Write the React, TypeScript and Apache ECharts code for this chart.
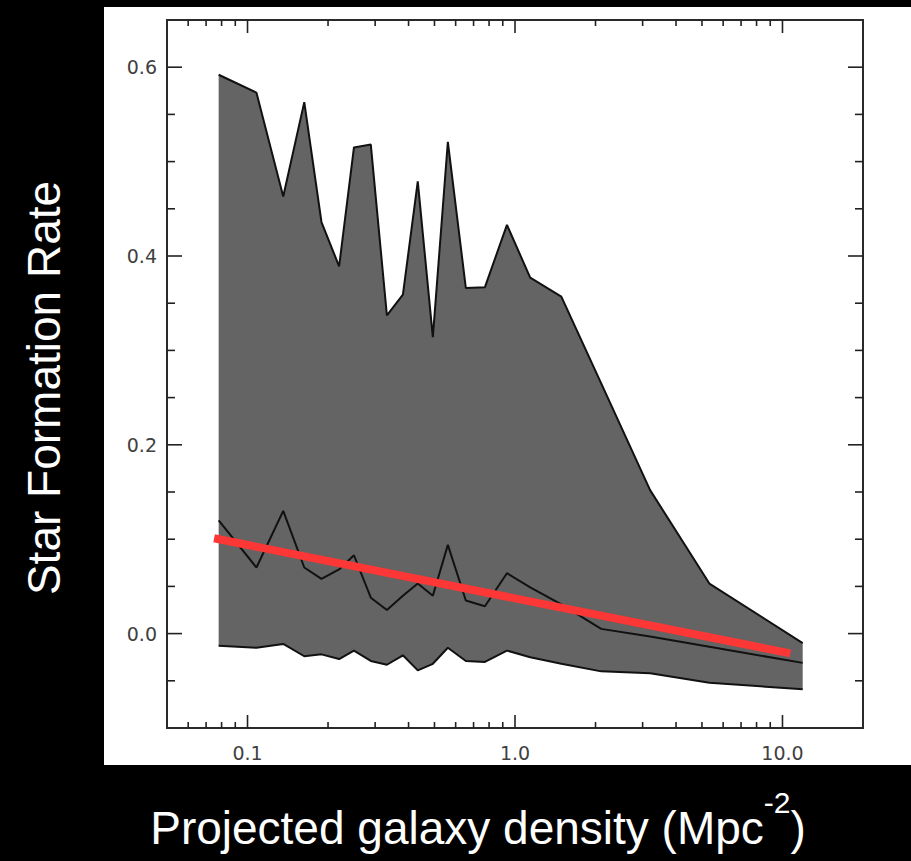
import React, { useEffect, useRef } from 'react';
import * as echarts from 'echarts';

// Projected galaxy density (Mpc^-2) sample positions
const density = [0.078, 0.108, 0.136, 0.163, 0.189, 0.220, 0.250, 0.289, 0.332, 0.381, 0.433, 0.493, 0.561, 0.655, 0.772, 0.933, 1.14, 1.49, 2.10, 3.20, 5.33, 11.9];
// Upper envelope of star formation rate
const sfrUpper = [0.592, 0.573, 0.463, 0.563, 0.436, 0.389, 0.515, 0.518, 0.337, 0.359, 0.479, 0.314, 0.521, 0.366, 0.367, 0.433, 0.377, 0.357, 0.265, 0.152, 0.053, -0.010];
// Median star formation rate
const sfrMedian = [0.120, 0.070, 0.130, 0.070, 0.058, 0.068, 0.083, 0.038, 0.025, 0.040, 0.053, 0.040, 0.094, 0.035, 0.029, 0.064, 0.049, 0.031, 0.005, -0.003, -0.014, -0.031];
// Lower envelope of star formation rate
const sfrLower = [-0.013, -0.015, -0.011, -0.024, -0.022, -0.027, -0.018, -0.029, -0.033, -0.023, -0.039, -0.032, -0.015, -0.029, -0.030, -0.018, -0.025, -0.032, -0.040, -0.042, -0.052, -0.059];
// Red fit line end points
const fitX = [0.075, 10.7];
const fitY = [0.101, -0.021];
// Ticks
const xMajorTicks = [0.1, 1, 10];
const xMinorTicks = [0.06, 0.07, 0.08, 0.09, 0.2, 0.3, 0.4, 0.5, 0.6, 0.7, 0.8, 0.9, 2, 3, 4, 5, 6, 7, 8, 9];
const yMajorTicks = [0.0, 0.2, 0.4, 0.6];
const yMinorTicks = [-0.05, 0.05, 0.1, 0.15, 0.25, 0.3, 0.35, 0.45, 0.5, 0.55];

const xTitle = 'Projected galaxy density (Mpc';
const xTitleSup = '-2';
const yTitle = 'Star Formation Rate';

export default function App() {
  const ref = useRef<HTMLDivElement>(null);
  useEffect(() => {
    document.body.style.margin = '0';
    document.body.style.background = '#000';
    const chart = echarts.init(ref.current!, null, { renderer: 'svg' });
    const tickStyle = { stroke: '#222', lineWidth: 1.6 };
    const xTickData = [
      ...xMajorTicks.map((v) => [v, 13]),
      ...xMinorTicks.map((v) => [v, 6]),
    ];
    const yTickData = [
      ...yMajorTicks.map((v) => [15, v]),
      ...yMinorTicks.map((v) => [8, v]),
    ];
    const lineBase = {
      type: 'line' as const,
      symbol: 'none',
      showSymbol: false,
      silent: true,
    };
    const labelFont = {
      color: '#404040',
      fontSize: 19,
      fontFamily: '"DejaVu Sans", Verdana, sans-serif',
    };
    chart.setOption({
      animation: false,
      backgroundColor: '#000',
      graphic: [
        {
          type: 'rect',
          z: -10,
          shape: { x: 104, y: 7, width: 807, height: 758 },
          style: { fill: '#fff' },
          silent: true,
        },
        {
          type: 'text',
          x: 44,
          y: 388,
          rotation: Math.PI / 2,
          style: {
            text: yTitle,
            fill: '#fff',
            font: '46px "Liberation Sans", Arial, sans-serif',
            align: 'center',
            verticalAlign: 'middle',
          },
        },
        {
          type: 'text',
          x: 478,
          y: 828,
          style: {
            text: `{a|${xTitle}}{s|${xTitleSup}}{a|)}`,
            fill: '#fff',
            align: 'center',
            verticalAlign: 'middle',
            rich: {
              a: {
                fill: '#fff',
                fontSize: 46,
                fontFamily: '"Liberation Sans", Arial, sans-serif',
                lineHeight: 82,
                verticalAlign: 'middle',
              },
              s: {
                fill: '#fff',
                fontSize: 30,
                fontFamily: '"Liberation Sans", Arial, sans-serif',
                lineHeight: 30,
                verticalAlign: 'top',
              },
            },
          },
        },
      ],
      grid: {
        left: 167,
        right: 48,
        top: 20,
        bottom: 133,
        show: true,
        borderColor: '#2a2a2a',
        borderWidth: 2,
        backgroundColor: 'transparent',
      },
      xAxis: {
        type: 'log',
        logBase: 10,
        min: 0.05,
        max: 20,
        axisLine: { show: false },
        axisTick: { show: false },
        splitLine: { show: false },
        axisLabel: {
          ...labelFont,
          margin: 15,
          formatter: (v: number) => {
            const l = Math.log10(v);
            return Math.abs(l - Math.round(l)) < 1e-6 ? v.toFixed(1) : '';
          },
        },
      },
      yAxis: {
        type: 'value',
        min: -0.1,
        max: 0.65,
        interval: 0.05,
        axisLine: { show: false },
        axisTick: { show: false },
        splitLine: { show: false },
        axisLabel: {
          ...labelFont,
          margin: 10,
          formatter: (v: number) =>
            Math.abs(v * 5 - Math.round(v * 5)) < 1e-6 && v > -0.01 ? v.toFixed(1) : '',
        },
      },
      series: [
        {
          type: 'custom',
          name: 'band',
          silent: true,
          z: 1,
          encode: { x: 0, y: [1, 2] },
          data: density.map((x, i) => [x, sfrLower[i], sfrUpper[i]]),
          renderItem: (params: any, api: any) => {
            if (params.dataIndexInside !== 0) return null;
            const n = params.dataInsideLength;
            const top: number[][] = [];
            const bot: number[][] = [];
            for (let i = 0; i < n; i++) {
              const x = api.value(0, i);
              top.push(api.coord([x, api.value(2, i)]));
              bot.push(api.coord([x, api.value(1, i)]));
            }
            return {
              type: 'polygon',
              shape: { points: top.concat(bot.reverse()) },
              style: { fill: '#646464', stroke: 'none' },
            };
          },
        },
        {
          ...lineBase,
          name: 'upper',
          lineStyle: { color: '#111', width: 2 },
          data: density.map((x, i) => [x, sfrUpper[i]]),
          z: 3,
        },
        {
          ...lineBase,
          name: 'median',
          lineStyle: { color: '#111', width: 2 },
          data: density.map((x, i) => [x, sfrMedian[i]]),
          z: 3,
        },
        {
          ...lineBase,
          name: 'lower',
          lineStyle: { color: '#111', width: 2 },
          data: density.map((x, i) => [x, sfrLower[i]]),
          z: 3,
        },
        {
          ...lineBase,
          name: 'fit',
          lineStyle: { color: '#fd3636', width: 8, cap: 'butt' },
          data: fitX.map((x, i) => [x, fitY[i]]),
          z: 4,
        },
        {
          type: 'custom',
          name: 'xticks',
          silent: true,
          data: xTickData,
          z: 5,
          renderItem: (params: any, api: any) => {
            const cs = params.coordSys;
            const px = api.coord([api.value(0), 0])[0];
            const len = api.value(1);
            const bottom = cs.y + cs.height;
            return {
              type: 'group',
              children: [
                { type: 'line', shape: { x1: px, y1: bottom, x2: px, y2: bottom - len }, style: tickStyle },
                { type: 'line', shape: { x1: px, y1: cs.y, x2: px, y2: cs.y + len }, style: tickStyle },
              ],
            };
          },
        },
        {
          type: 'custom',
          name: 'yticks',
          silent: true,
          data: yTickData,
          z: 5,
          renderItem: (params: any, api: any) => {
            const cs = params.coordSys;
            const py = api.coord([1, api.value(1)])[1];
            const len = api.value(0);
            const right = cs.x + cs.width;
            return {
              type: 'group',
              children: [
                { type: 'line', shape: { x1: cs.x, y1: py, x2: cs.x + len, y2: py }, style: tickStyle },
                { type: 'line', shape: { x1: right, y1: py, x2: right - len, y2: py }, style: tickStyle },
              ],
            };
          },
        },
      ],
    });
    return () => chart.dispose();
  }, []);
  return (
    <div
      ref={ref}
      style={{ position: 'fixed', left: 0, top: 0, width: 911, height: 861, background: '#000' }}
    />
  );
}
